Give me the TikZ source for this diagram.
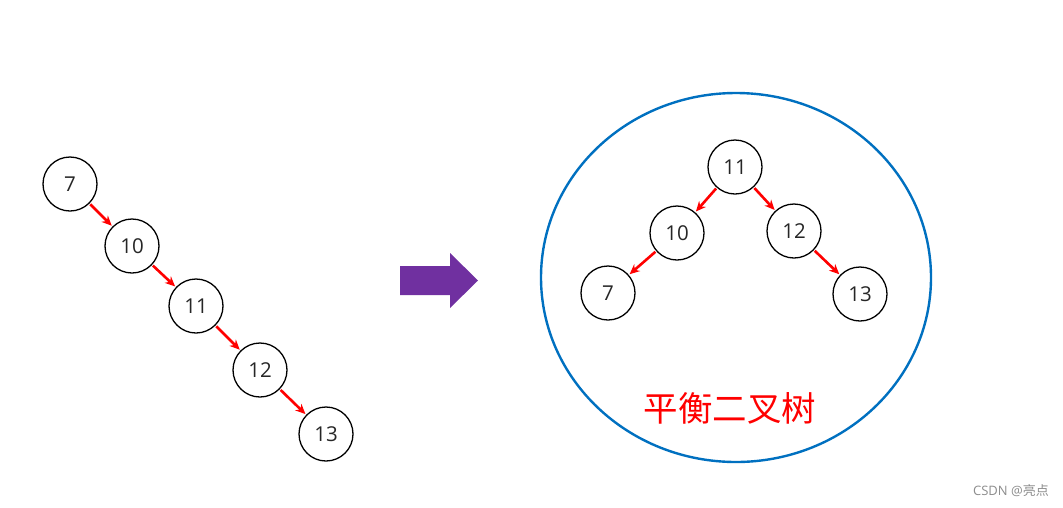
\documentclass[tikz,border=0pt]{standalone}
\usepackage{fontspec}
\setmainfont{Open Sans}
\newfontfamily\cjk{Noto Sans CJK SC}
\usetikzlibrary{arrows.meta}
\definecolor{edgered}{RGB}{255,0,0}
\definecolor{ringblue}{RGB}{0,112,192}
\definecolor{arrowpurple}{RGB}{112,48,160}
\begin{document}
\begin{tikzpicture}[x=1pt,y=-1pt,
  tnode/.style={circle,draw=black,line width=1.3pt,minimum size=54pt,inner sep=0pt,font=\fontsize{20.5}{20.5}\selectfont,text=black!85},
  tedge/.style={draw=edgered,line width=2.6pt,-{Stealth[length=10pt,width=9pt]},shorten >=1pt,shorten <=1pt}]
\useasboundingbox (0,0) rectangle (1063,507);
% left chain
\node[tnode] (a7) at (70,184) {7};
\node[tnode] (a10) at (132,246) {10};
\node[tnode] (a11) at (196,306) {11};
\node[tnode] (a12) at (260,370) {12};
\node[tnode] (a13) at (326,434) {13};
\draw[tedge] (a7) -- (a10);
\draw[tedge] (a10) -- (a11);
\draw[tedge] (a11) -- (a12);
\draw[tedge] (a12) -- (a13);
% big arrow
\fill[arrowpurple] (400,266) -- (450,266) -- (450,253) -- (478,280.5) -- (450,308) -- (450,295) -- (400,295) -- cycle;
% ellipse
\draw[ringblue,line width=2.4pt] (736,277.5) ellipse [x radius=195, y radius=184.5];
% balanced tree
\node[tnode] (b11) at (735,167) {11};
\node[tnode] (b10) at (677,233) {10};
\node[tnode] (b12) at (794,231) {12};
\node[tnode] (b7) at (608,293) {7};
\node[tnode] (b13) at (860,294) {13};
\draw[tedge] (b11) -- (b10);
\draw[tedge] (b11) -- (b12);
\draw[tedge] (b10) -- (b7);
\draw[tedge] (b12) -- (b13);
\node[text=edgered,font=\cjk\fontsize{34.5}{34.5}\selectfont,inner sep=0pt] (title) at (730,408) {平衡二叉树};
\node[text=black!45,font=\fontsize{13}{13}\selectfont,anchor=east,inner sep=0pt] (wm) at (1049,491) {CSDN @\cjk 亮点};
\end{tikzpicture}
\end{document}
